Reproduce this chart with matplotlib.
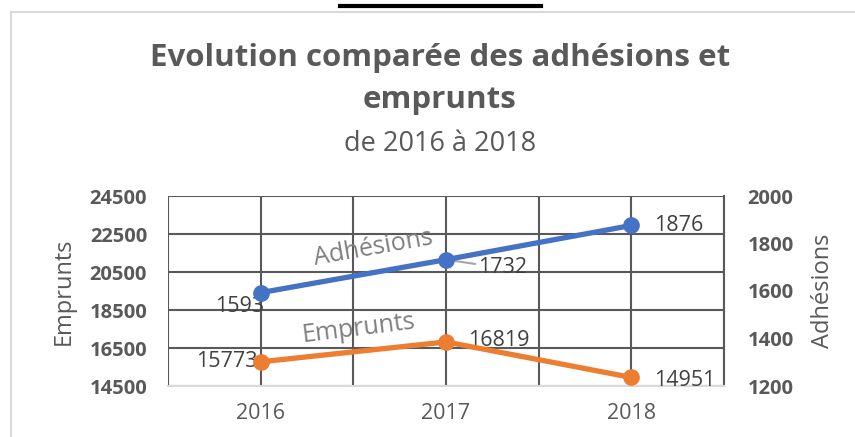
import matplotlib.pyplot as plt
from matplotlib.lines import Line2D
from matplotlib.ticker import MultipleLocator

years = ['2016', '2017', '2018']
emprunts = [15773, 16819, 14951]
adhesions = [1593, 1732, 1876]
emp_ticks = [14500, 16500, 18500, 20500, 22500, 24500]
adh_ticks = [1200, 1400, 1600, 1800, 2000]

GREY = '#595959'
BLUE = '#4472C4'
ORANGE = '#ED7D31'
plt.rcParams['font.family'] = ['Open Sans', 'DejaVu Sans']

fig = plt.figure(figsize=(8.55, 4.37), dpi=100)

# frame and the page underline above the chart
fig.add_artist(Line2D([11/855, 11/855], [0, 1 - 12/437], color='#D9D9D9', lw=1.5))
fig.add_artist(Line2D([11/855, 1], [1 - 12/437, 1 - 12/437], color='#D9D9D9', lw=1.5))
fig.add_artist(Line2D([340/855, 541/855], [1 - 6/437, 1 - 6/437], color='black', lw=3))

fig.text(440/855, 1 - 58/437, 'Evolution comparée des adhésions et', ha='center', va='center',
         fontsize=22.5, fontweight='bold', color=GREY)
fig.text(440/855, 1 - 100/437, 'emprunts', ha='center', va='center',
         fontsize=22.5, fontweight='bold', color=GREY)
fig.text(440/855, 1 - 144/437, 'de 2016 à 2018', ha='center', va='center',
         fontsize=19.5, color=GREY)

ax = fig.add_axes([168/855, 1 - 386/437, 556/855, 190/437])
ax2 = ax.twinx()

x = range(len(years))
ax.plot(x, emprunts, color=ORANGE, lw=3.8, marker='o', ms=11, zorder=5)
ax2.plot(x, adhesions, color=BLUE, lw=3.8, marker='o', ms=11, zorder=5)

ax.set_xlim(-0.5, 2.5)
ax.set_ylim(14500, 24500)
ax2.set_ylim(1200, 2000)
ax.set_xticks(list(x))
ax.set_xticklabels(years)
ax.xaxis.set_minor_locator(MultipleLocator(0.5))
ax.set_yticks(emp_ticks)
ax2.set_yticks(adh_ticks)

ax.grid(True, which='both', axis='x', color=GREY, lw=1.5)
ax.grid(True, axis='y', color=GREY, lw=1.5)
ax.set_axisbelow(True)
for a in (ax, ax2):
    for s in a.spines.values():
        s.set_visible(False)
    a.tick_params(length=0, which='both')
ax.spines['bottom'].set_visible(True)
ax.spines['bottom'].set_color('#D9D9D9')
ax.spines['bottom'].set_linewidth(1.5)
ax.spines['right'].set_visible(True)
ax.spines['right'].set_color(GREY)
ax.spines['right'].set_linewidth(1.5)

ax.tick_params(axis='x', colors=GREY, labelsize=15.5, pad=12)
ax.tick_params(axis='y', colors=GREY, labelsize=14.5, pad=15)
ax2.tick_params(axis='y', colors=GREY, labelsize=14.5, pad=17)
for lab in ax.get_yticklabels() + ax2.get_yticklabels():
    lab.set_fontweight('bold')

ax.set_ylabel('Emprunts', fontsize=17, color=GREY, labelpad=10)
ax2.set_ylabel('Adhésions', fontsize=17, color=GREY, labelpad=12)

# data labels
lbl = dict(fontsize=15.5, color='#404040', va='center')
ax2.annotate(str(adhesions[0]), (0, adhesions[0]), xytext=(-15, -10), textcoords='offset points', ha='center', **lbl)
ax2.annotate(str(adhesions[1]), (1, adhesions[1]), xytext=(23, -6), textcoords='offset points', ha='left',
             arrowprops=dict(arrowstyle='-', color='#A6A6A6', lw=1.5, shrinkA=0, shrinkB=2), **lbl)
ax2.annotate(str(adhesions[2]), (2, adhesions[2]), xytext=(16, 0), textcoords='offset points', ha='left', **lbl)
ax.annotate(str(emprunts[0]), (0, emprunts[0]), xytext=(-2, 0), textcoords='offset points', ha='right', **lbl)
ax.annotate(str(emprunts[1]), (1, emprunts[1]), xytext=(16, 1), textcoords='offset points', ha='left', **lbl)
ax.annotate(str(emprunts[2]), (2, emprunts[2]), xytext=(16, -2), textcoords='offset points', ha='left', **lbl)

# series name labels
ax2.text(0.61, 1782, 'Adhésions', fontsize=18, color='#7F7F7F', rotation=10, ha='center', va='center')
ax.text(0.53, 17520, 'Emprunts', fontsize=18, color='#7F7F7F', rotation=7, ha='center', va='center')

fig.savefig('out.png', dpi=100)
